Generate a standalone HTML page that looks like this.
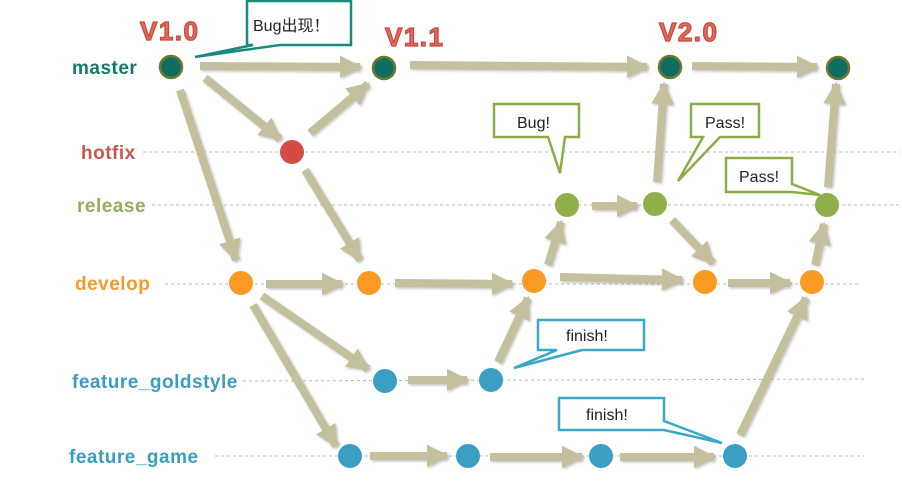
<!DOCTYPE html>
<html><head><meta charset="utf-8"><style>
html,body{margin:0;padding:0;background:#fff;}
svg{display:block;}
.lbl{font-family:"Liberation Sans",sans-serif;font-weight:bold;font-size:19px;letter-spacing:0.5px;}
.ver{font-family:"Liberation Sans",sans-serif;font-weight:bold;font-size:26px;letter-spacing:1.5px;fill:#e26a5c;stroke:#c9483a;stroke-width:1.2;}
.ct{font-family:"Liberation Sans","Noto Sans CJK SC",sans-serif;font-size:16px;fill:#222;}
.dl{stroke:#bbb;stroke-width:1;stroke-dasharray:3,3;}
</style></head><body>
<svg width="902" height="491" viewBox="0 0 902 491" xmlns="http://www.w3.org/2000/svg">
<defs>
<marker id="ah" viewBox="0 0 10 10" refX="9" refY="5" markerWidth="2.8" markerHeight="2.8" orient="auto" markerUnits="strokeWidth">
<path d="M0,0 L10,5 L0,10 z" fill="#c4bf9d"/>
</marker>
<filter id="sh" x="-10%" y="-10%" width="120%" height="120%"><feDropShadow dx="1.5" dy="1.5" stdDeviation="1.2" flood-color="#888" flood-opacity="0.5"/></filter>
</defs>
<line class="dl" x1="143" y1="152" x2="900" y2="152"/>
<line class="dl" x1="152" y1="205" x2="900" y2="205"/>
<line class="dl" x1="165" y1="284" x2="858" y2="284"/>
<line class="dl" x1="243" y1="381" x2="865" y2="379"/>
<line class="dl" x1="215" y1="456" x2="864" y2="456"/>
<g stroke="#c4bf9d" stroke-width="8" fill="none" marker-end="url(#ah)" filter="url(#sh)">
<line x1="200" y1="66" x2="360" y2="67"/>
<line x1="410" y1="65" x2="647" y2="67"/>
<line x1="692" y1="66" x2="817" y2="67"/>
<line x1="180" y1="90" x2="236" y2="260"/>
<line x1="205" y1="78" x2="280" y2="139"/>
<line x1="310" y1="133" x2="368" y2="84"/>
<line x1="305" y1="170" x2="360" y2="260"/>
<line x1="266" y1="284" x2="342" y2="284"/>
<line x1="395" y1="283" x2="512" y2="284"/>
<line x1="560" y1="277" x2="682" y2="280"/>
<line x1="728" y1="283" x2="790" y2="283"/>
<line x1="262" y1="296" x2="368" y2="369"/>
<line x1="253" y1="305" x2="336" y2="446"/>
<line x1="408" y1="380" x2="467" y2="380"/>
<line x1="498" y1="362" x2="528" y2="298"/>
<line x1="370" y1="456" x2="447" y2="456"/>
<line x1="490" y1="457" x2="582" y2="457"/>
<line x1="620" y1="457" x2="714" y2="457"/>
<line x1="740" y1="435" x2="806" y2="298"/>
<line x1="548" y1="265" x2="561" y2="222"/>
<line x1="592" y1="206" x2="637" y2="206"/>
<line x1="657" y1="182" x2="664" y2="84"/>
<line x1="672" y1="220" x2="713" y2="263"/>
<line x1="815" y1="265" x2="824" y2="224"/>
<line x1="828" y1="187" x2="836" y2="84"/>
</g>
<g stroke="#6b7a2a" stroke-width="2.5" fill="#0f6e64">
<circle cx="171" cy="67" r="11"/><circle cx="384" cy="68" r="11"/><circle cx="670" cy="67" r="11"/><circle cx="838" cy="68" r="11"/>
</g>
<circle cx="292" cy="152" r="12" fill="#d24c45"/>
<g fill="#8faf4a"><circle cx="567" cy="205" r="12"/><circle cx="655" cy="204" r="12"/><circle cx="827" cy="205" r="12"/></g>
<g fill="#fb9a22"><circle cx="241" cy="283" r="12"/><circle cx="369" cy="283" r="12"/><circle cx="534" cy="281" r="12"/><circle cx="705" cy="282" r="12"/><circle cx="812" cy="282" r="12"/></g>
<g fill="#3a9fc3"><circle cx="385" cy="381" r="12"/><circle cx="491" cy="380" r="12"/><circle cx="350" cy="456" r="12"/><circle cx="468" cy="456" r="12"/><circle cx="601" cy="456" r="12"/><circle cx="735" cy="456" r="12"/></g>
<text class="lbl" x="72" y="74" fill="#137a6a">master</text>
<text class="lbl" x="81" y="159" fill="#c8574d">hotfix</text>
<text class="lbl" x="77" y="212" fill="#96ad5a">release</text>
<text class="lbl" x="75" y="290" fill="#f39a2a">develop</text>
<text class="lbl" x="72" y="388" fill="#3a9dbf">feature_goldstyle</text>
<text class="lbl" x="69" y="463" fill="#3a9dbf">feature_game</text>
<text class="ver" x="140" y="40">V1.0</text>
<text class="ver" x="385" y="46">V1.1</text>
<text class="ver" x="659" y="41">V2.0</text>
<g fill="#fff" stroke-width="2.5" stroke-linejoin="miter">
<path d="M247,1 H351 V45 H280 L195,57 L253,45 H247 Z" stroke="#1a8a7a"/>
<path d="M494,104 H579 V137 H565 L560,173 L548,137 H494 Z" stroke="#8aad48"/>
<path d="M691,104 H759 V137 H720 L678,181 L703,137 H691 Z" stroke="#8aad48"/>
<path d="M726,158 H792 V184 L820,195 L792,192 H726 Z" stroke="#8aad48"/>
<path d="M538,320 H644 V350 H582 L514,368 L557,350 H538 Z" stroke="#3aa7c8"/>
<path d="M559,398 H664 V421 L722,443 L664,430 H559 Z" stroke="#3aa7c8"/>
</g>
<text class="ct" x="253" y="31">Bug出现！</text>
<text class="ct" x="517" y="128">Bug!</text>
<text class="ct" x="705" y="128">Pass!</text>
<text class="ct" x="739" y="182">Pass!</text>
<text class="ct" x="566" y="341">finish!</text>
<text class="ct" x="586" y="420">finish!</text>
</svg>
</body></html>
